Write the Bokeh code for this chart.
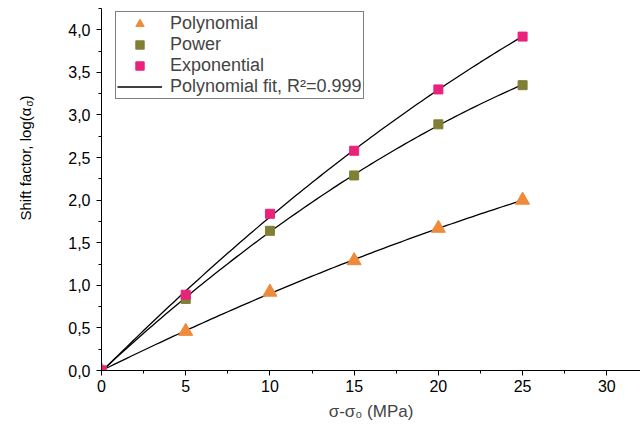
import numpy as np
from bokeh.plotting import figure
from bokeh.layouts import row
from bokeh.core.properties import value
from bokeh.models import (Range1d, SingleIntervalTicker, CustomJSTickFormatter,
                          Legend, LegendItem)
from bokeh.embed import file_html
from bokeh.resources import INLINE

# data
stress = [0, 5, 10, 15, 20, 25]
polynomial = [0.0, 0.46, 0.92, 1.29, 1.67, 2.00]
power = [0.0, 0.84, 1.64, 2.29, 2.89, 3.35]
exponential = [0.0, 0.89, 1.84, 2.58, 3.30, 3.92]

FONT = "Liberation Sans"
ORANGE = "#EF8A3A"
OLIVE = "#7F7F35"
PINK = "#E9237B"

LEFT_W = 40
TOP, BOTTOM = 8, 62
p = figure(width=640 - LEFT_W, height=432, output_backend="svg", toolbar_location=None,
           x_range=Range1d(0, 32), y_range=Range1d(0, 4.25),
           min_border_left=101 - LEFT_W, min_border_right=0, min_border_top=TOP,
           min_border_bottom=BOTTOM)
p.outline_line_color = None
p.xgrid.visible = False
p.ygrid.visible = False

# fit curves (quadratic least squares of each series)
xs = np.linspace(0, 25, 101)
fit_renderers = []
for series in (polynomial, power, exponential):
    c = np.polyfit(stress, series, 2)
    fit_renderers.append(p.line(xs, np.polyval(c, xs), line_color="black", line_width=1.3))

r_poly = p.scatter(stress, polynomial, marker="triangle", size=14, color=ORANGE)
r_pow = p.scatter(stress, power, marker="square", size=9, color=OLIVE)
r_exp = p.scatter(stress, exponential, marker="square", size=9, color=PINK)

for ax in (p.xaxis[0], p.yaxis[0]):
    ax.axis_line_color = "black"
    ax.axis_line_width = 1
    ax.major_tick_in = 0
    ax.major_tick_out = 5
    ax.minor_tick_in = 0
    ax.minor_tick_out = 3
    ax.major_label_text_font = FONT
    ax.major_label_text_font_size = "16px"
    ax.major_label_text_color = "black"
    ax.axis_label_text_font = FONT
    ax.axis_label_text_font_style = "normal"
    ax.axis_label_text_font_size = "17px"

p.xaxis.ticker = SingleIntervalTicker(interval=5, num_minor_ticks=2)
p.yaxis.ticker = SingleIntervalTicker(interval=0.5, num_minor_ticks=2)
p.yaxis.formatter = CustomJSTickFormatter(code="return tick.toFixed(1).replace('.', ',');")
p.xaxis.axis_label = "σ-σ₀ (MPa)"
p.xaxis.axis_label_standoff = 7
p.xaxis.major_label_standoff = 4
p.yaxis.major_label_standoff = 6

legend = Legend(items=[
    LegendItem(label="Polynomial", renderers=[r_poly]),
    LegendItem(label="Power", renderers=[r_pow]),
    LegendItem(label="Exponential", renderers=[r_exp]),
    LegendItem(label="Polynomial fit, R²=0.999", renderers=[fit_renderers[0]]),
], location=(14, 271))
legend.label_text_font = FONT
legend.label_text_font_size = "18px"
legend.glyph_width = 45
legend.glyph_height = 21
legend.label_height = 21
legend.spacing = 0
legend.padding = 1
legend.margin = 0
legend.label_standoff = 8
legend.border_line_color = "black"
legend.border_line_width = 1
legend.background_fill_alpha = 1
p.add_layout(legend, "center")

# narrow strip holding the y-axis title (with a subscript); its frame spans the
# same rows as the main frame, one data unit = one pixel, 0 at the frame bottom
FRAME_H = 432 - TOP - BOTTOM
t = figure(width=LEFT_W, height=432, output_backend="svg", toolbar_location=None,
           x_range=Range1d(0, LEFT_W), y_range=Range1d(0, FRAME_H),
           x_axis_location=None, y_axis_location=None,
           min_border_left=0, min_border_right=0,
           min_border_top=TOP, min_border_bottom=BOTTOM)
t.grid.visible = False
t.outline_line_color = None
ang = np.pi / 2
t.text(x=[25], y=[150], text=["Shift factor, log(α"], angle=ang, text_align="left",
       text_baseline="middle", text_font=value(FONT), text_font_size="15px",
       text_color="black")
t.text(x=[29], y=[264], text=["σ"], angle=ang, text_align="left",
       text_baseline="middle", text_font=value(FONT), text_font_size="10px",
       text_color="black")
t.text(x=[25], y=[270], text=[")"], angle=ang, text_align="left",
       text_baseline="middle", text_font=value(FONT), text_font_size="15px",
       text_color="black")

layout = row(t, p, spacing=0)
open("out.html", "w").write(file_html(layout, INLINE))
